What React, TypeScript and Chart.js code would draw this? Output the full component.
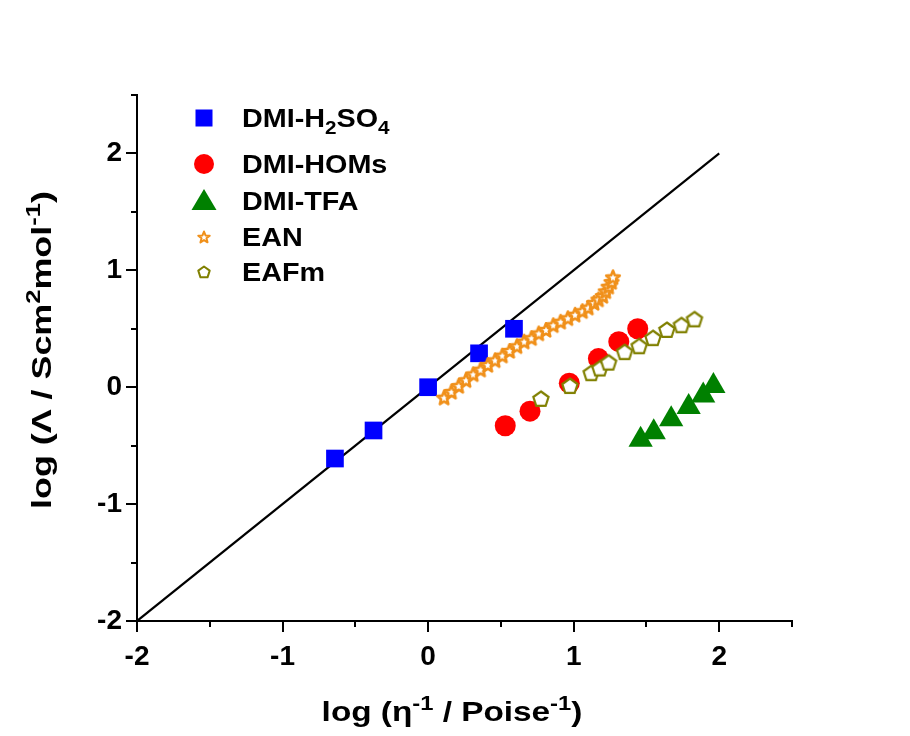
import { useEffect, useRef } from "react";
import { Chart, registerables } from "chart.js";
Chart.register(...registerables);

const FONT = "'Liberation Sans', Arial, Helvetica, sans-serif";

// ---- data ----
const h2so4X = [-0.64, -0.375, 0.0, 0.35, 0.59];
const h2so4Y = [-0.61, -0.37, 0.0, 0.29, 0.5];

const homsX = [0.53, 0.7, 0.97, 1.17, 1.31, 1.44];
const homsY = [-0.33, -0.205, 0.035, 0.245, 0.39, 0.5];

const tfaX = [1.46, 1.55, 1.67, 1.79, 1.89, 1.96];
const tfaY = [-0.45, -0.385, -0.275, -0.17, -0.07, 0.01];

const eanX = [0.11, 0.16, 0.21, 0.26, 0.31, 0.36, 0.41, 0.46, 0.51, 0.56, 0.61, 0.66, 0.71, 0.76, 0.81, 0.86, 0.91, 0.96, 1.01, 1.06, 1.1, 1.14, 1.17, 1.2, 1.22, 1.24, 1.26, 1.27];
const eanY = [-0.09, -0.04, 0.01, 0.06, 0.11, 0.15, 0.19, 0.23, 0.27, 0.31, 0.35, 0.39, 0.42, 0.46, 0.49, 0.53, 0.56, 0.59, 0.62, 0.65, 0.68, 0.72, 0.75, 0.78, 0.82, 0.86, 0.9, 0.94];

const eafmX = [0.775, 0.974, 1.12, 1.18, 1.24, 1.35, 1.45, 1.545, 1.64, 1.74, 1.83];
const eafmY = [-0.1, 0.01, 0.12, 0.16, 0.21, 0.3, 0.35, 0.42, 0.49, 0.53, 0.58];

const fitX = [-2, 2];
const fitY = [-2, 2];

const tickValues = [-2, -1, 0, 1, 2];
const tickLabels = ["-2", "-1", "0", "1", "2"];

const seriesNames = ["DMI-H2SO4", "DMI-HOMs", "DMI-TFA", "EAN", "EAFm"];

// ---- styles ----
const BLUE = "#0000FF";
const RED = "#FF0000";
const GREEN = "#008000";
const ORANGE = "#F0901A";
const OLIVE = "#808000";

function starPath(ctx: CanvasRenderingContext2D, cx: number, cy: number, ro: number, ri: number) {
  ctx.beginPath();
  for (let i = 0; i < 10; i++) {
    const r = i % 2 === 0 ? ro : ri;
    const a = -Math.PI / 2 + (i * Math.PI) / 5;
    const px = cx + r * Math.cos(a);
    const py = cy + r * Math.sin(a);
    if (i === 0) ctx.moveTo(px, py);
    else ctx.lineTo(px, py);
  }
  ctx.closePath();
}

function pentPath(ctx: CanvasRenderingContext2D, cx: number, cy: number, r: number) {
  ctx.beginPath();
  for (let i = 0; i < 5; i++) {
    const a = -Math.PI / 2 + (i * 2 * Math.PI) / 5;
    const px = cx + r * Math.cos(a);
    const py = cy + r * Math.sin(a);
    if (i === 0) ctx.moveTo(px, py);
    else ctx.lineTo(px, py);
  }
  ctx.closePath();
}

function makeStar(): HTMLCanvasElement {
  const c = document.createElement("canvas");
  c.width = 20;
  c.height = 20;
  const ctx = c.getContext("2d")!;
  starPath(ctx, 10, 10.5, 7.2, 3.2);
  ctx.fillStyle = "#FFFFFF";
  ctx.fill();
  ctx.lineWidth = 2.6;
  ctx.lineJoin = "round";
  ctx.strokeStyle = ORANGE;
  ctx.stroke();
  return c;
}

function makePent(): HTMLCanvasElement {
  const c = document.createElement("canvas");
  c.width = 22;
  c.height = 22;
  const ctx = c.getContext("2d")!;
  pentPath(ctx, 11, 11.5, 8);
  ctx.fillStyle = "#FFFFFF";
  ctx.fill();
  ctx.lineWidth = 2.2;
  ctx.strokeStyle = OLIVE;
  ctx.stroke();
  return c;
}

type Seg = { t: string; s: number; dy: number };

function drawRich(ctx: CanvasRenderingContext2D, segs: Seg[], size: number, sx: number, align: "left" | "center") {
  let total = 0;
  const widths: number[] = [];
  for (const sg of segs) {
    ctx.font = `bold ${Math.round(size * sg.s)}px ${FONT}`;
    const w = ctx.measureText(sg.t).width;
    widths.push(w);
    total += w;
  }
  ctx.save();
  ctx.scale(sx, 1);
  let x = align === "center" ? -total / 2 : 0;
  ctx.textBaseline = "alphabetic";
  ctx.textAlign = "left";
  segs.forEach((sg, i) => {
    ctx.font = `bold ${Math.round(size * sg.s)}px ${FONT}`;
    ctx.fillText(sg.t, x, sg.dy);
    x += widths[i];
  });
  ctx.restore();
}

const decorPlugin = {
  id: "decor",
  afterDraw(chart: any) {
    const ctx: CanvasRenderingContext2D = chart.ctx;
    const xs = chart.scales.x;
    const ys = chart.scales.y;
    const area = chart.chartArea;
    ctx.save();
    // tick marks
    ctx.strokeStyle = "#000";
    ctx.lineWidth = 2;
    for (let v = -2; v <= 2.5001; v += 0.5) {
      const major = Math.abs(v - Math.round(v)) < 1e-6;
      const len = major ? 11 : 6;
      const px = Math.round(xs.getPixelForValue(v));
      ctx.beginPath();
      ctx.moveTo(px, area.bottom);
      ctx.lineTo(px, area.bottom + len);
      ctx.stroke();
      const py = Math.round(ys.getPixelForValue(v));
      ctx.beginPath();
      ctx.moveTo(area.left, py);
      ctx.lineTo(area.left - len, py);
      ctx.stroke();
    }

    ctx.fillStyle = "#000";
    // x title
    ctx.save();
    ctx.translate(452, 721);
    drawRich(
      ctx,
      [
        { t: "log (", s: 1, dy: 0 },
        { t: "\u03B7", s: 1, dy: 0 },
        { t: "-1", s: 0.7, dy: -11 },
        { t: " / Poise", s: 1, dy: 0 },
        { t: "-1", s: 0.7, dy: -11 },
        { t: ")", s: 1, dy: 0 },
      ],
      28,
      1.19,
      "center"
    );
    ctx.restore();

    // y title
    ctx.save();
    ctx.translate(51, 350);
    ctx.rotate(-Math.PI / 2);
    drawRich(
      ctx,
      [
        { t: "log (", s: 1, dy: 0 },
        { t: "\u039B", s: 1, dy: 0 },
        { t: " / Scm", s: 1, dy: 0 },
        { t: "2", s: 0.7, dy: -11 },
        { t: "mol", s: 1, dy: 0 },
        { t: "-1", s: 0.7, dy: -11 },
        { t: ")", s: 1, dy: 0 },
      ],
      28,
      1.28,
      "center"
    );
    ctx.restore();

    // legend
    const mx = 204;
    const tx = 242;
    const rows = [118, 164, 201, 237, 272];
    // square
    ctx.fillStyle = BLUE;
    ctx.fillRect(mx - 8.5, rows[0] - 8.5, 17, 17);
    // circle
    ctx.fillStyle = RED;
    ctx.beginPath();
    ctx.arc(mx, rows[1], 10, 0, Math.PI * 2);
    ctx.fill();
    // triangle
    ctx.fillStyle = GREEN;
    ctx.beginPath();
    ctx.moveTo(mx, rows[2] - 12);
    ctx.lineTo(mx + 12.5, rows[2] + 9);
    ctx.lineTo(mx - 12.5, rows[2] + 9);
    ctx.closePath();
    ctx.fill();
    // star
    starPath(ctx, mx, rows[3] + 0.5, 6, 2.6);
    ctx.fillStyle = "#fff";
    ctx.fill();
    ctx.strokeStyle = ORANGE;
    ctx.lineWidth = 2;
    ctx.lineJoin = "round";
    ctx.stroke();
    // pentagon
    pentPath(ctx, mx, rows[4] + 0.5, 6);
    ctx.fillStyle = "#fff";
    ctx.fill();
    ctx.strokeStyle = OLIVE;
    ctx.lineWidth = 2;
    ctx.stroke();

    ctx.fillStyle = "#000";
    const lsz = 25;
    const lsx = 1.15;
    const legendSegs: Seg[][] = [
      [
        { t: "DMI-H", s: 1, dy: 0 },
        { t: "2", s: 0.7, dy: 7 },
        { t: "SO", s: 1, dy: 0 },
        { t: "4", s: 0.7, dy: 7 },
      ],
      [{ t: seriesNames[1], s: 1, dy: 0 }],
      [{ t: seriesNames[2], s: 1, dy: 0 }],
      [{ t: seriesNames[3], s: 1, dy: 0 }],
      [{ t: seriesNames[4], s: 1, dy: 0 }],
    ];
    legendSegs.forEach((segs, i) => {
      ctx.save();
      ctx.translate(tx, rows[i] + 9);
      drawRich(ctx, segs, lsz, lsx, "left");
      ctx.restore();
    });
    ctx.restore();
  },
};

function pts(xs: number[], ys: number[]) {
  return xs.map((x, i) => ({ x, y: ys[i] }));
}

export default function App() {
  const ref = useRef<HTMLCanvasElement | null>(null);
  useEffect(() => {
    document.body.style.margin = "0";
    const canvas = ref.current!;
    const star = makeStar();
    const pent = makePent();
    const tickCb = (v: any) => {
      const idx = tickValues.findIndex((t) => Math.abs(t - Number(v)) < 1e-6);
      return idx >= 0 ? tickLabels[idx] : "";
    };
    const tickFont = { family: FONT, size: 28, weight: "bold" as const };
    const chart = new Chart(canvas, {
      type: "scatter",
      data: {
        datasets: [
          {
            label: "fit",
            data: pts(fitX, fitY),
            showLine: true,
            borderColor: "#000",
            borderWidth: 2.2,
            pointRadius: 0,
            order: 6,
          } as any,
          {
            label: seriesNames[0],
            data: pts(h2so4X, h2so4Y),
            pointStyle: "rect",
            pointRadius: 12.5,
            backgroundColor: BLUE,
            borderColor: BLUE,
            borderWidth: 0,
            order: 5,
          },
          {
            label: seriesNames[1],
            data: pts(homsX, homsY),
            pointStyle: "circle",
            pointRadius: 10.5,
            backgroundColor: RED,
            borderColor: RED,
            borderWidth: 0,
            order: 4,
          },
          {
            label: seriesNames[2],
            data: pts(tfaX, tfaY),
            pointStyle: "triangle",
            pointRadius: 14,
            backgroundColor: GREEN,
            borderColor: GREEN,
            borderWidth: 0,
            order: 3,
          },
          {
            label: seriesNames[3],
            data: pts(eanX, eanY),
            pointStyle: star,
            pointRadius: 8,
            order: 2,
          },
          {
            label: seriesNames[4],
            data: pts(eafmX, eafmY),
            pointStyle: pent,
            pointRadius: 8,
            order: 1,
          },
        ],
      },
      options: {
        animation: false,
        responsive: false,
        devicePixelRatio: 1,
        layout: { padding: { left: 0, top: 95, right: 118, bottom: 0 } },
        plugins: { legend: { display: false }, tooltip: { enabled: false } },
        scales: {
          x: {
            type: "linear",
            min: -2,
            max: 2.5,
            afterFit: (s: any) => {
              s.height = 115;
            },
            grid: { display: true, drawOnChartArea: false, color: "rgba(0,0,0,0)", tickColor: "rgba(0,0,0,0)", tickLength: 11 },
            border: { display: true, color: "#000", width: 2 },
            ticks: { stepSize: 0.5, autoSkip: false, maxRotation: 0, padding: 8, color: "#000", font: tickFont, callback: tickCb },
          },
          y: {
            type: "linear",
            min: -2,
            max: 2.5,
            afterFit: (s: any) => {
              s.width = 137;
            },
            grid: { display: true, drawOnChartArea: false, color: "rgba(0,0,0,0)", tickColor: "rgba(0,0,0,0)", tickLength: 11 },
            border: { display: true, color: "#000", width: 2 },
            ticks: { stepSize: 0.5, autoSkip: false, padding: 4, color: "#000", font: tickFont, callback: tickCb },
          },
        },
      },
      plugins: [decorPlugin],
    });
    return () => chart.destroy();
  }, []);
  return (
    <div style={{ width: 910, height: 736, background: "#fff", overflow: "hidden" }}>
      <canvas ref={ref} width={910} height={736} />
    </div>
  );
}
